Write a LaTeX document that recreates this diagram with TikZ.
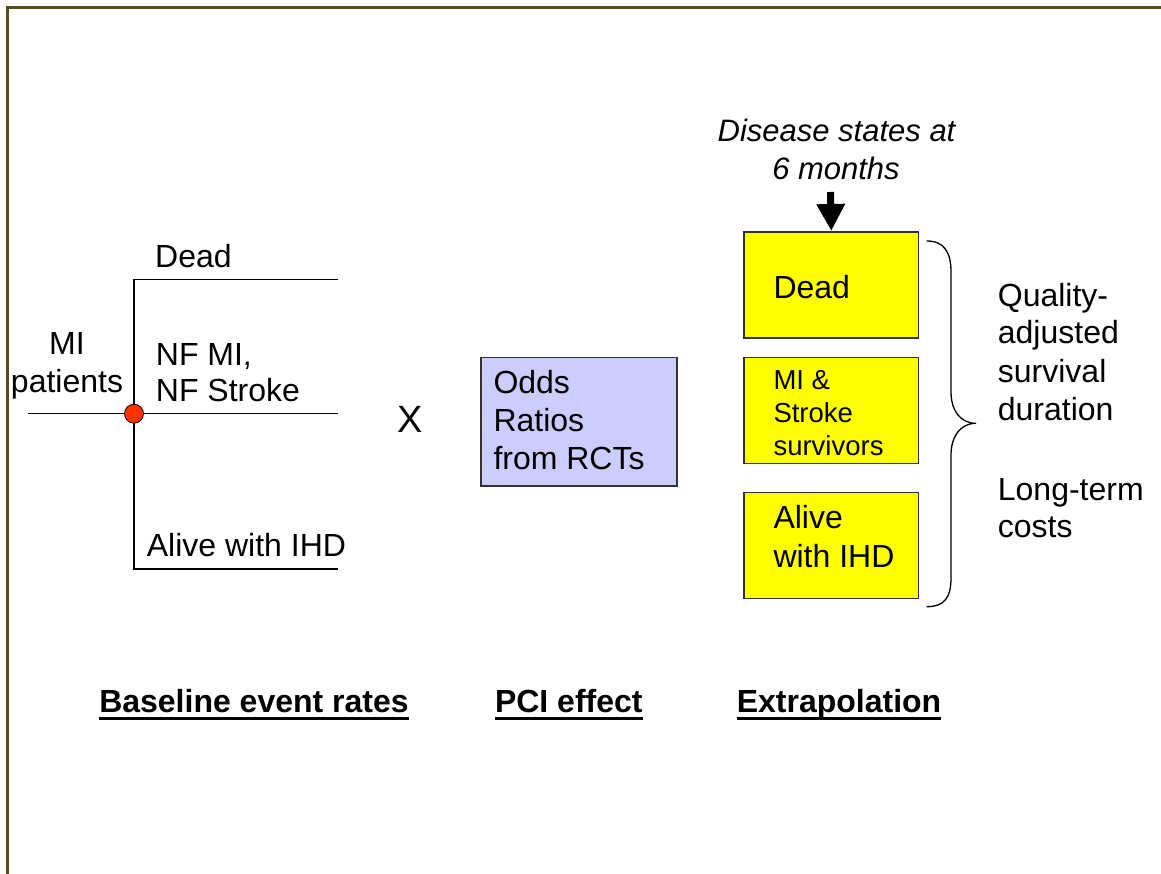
\documentclass[tikz,border=0pt]{standalone}
\usepackage{fontspec}
\setmainfont{Liberation Sans}
\usetikzlibrary{arrows.meta}
\definecolor{framecol}{RGB}{80,80,30}
\definecolor{dotred}{RGB}{255,51,0}
\definecolor{oddsblue}{RGB}{204,204,255}
\definecolor{stateyellow}{RGB}{255,255,0}
\tikzset{
  txt/.style={font=\fontsize{32}{37}\selectfont, inner sep=0pt, anchor=base west},
  txtc/.style={font=\fontsize{32}{37}\selectfont, inner sep=0pt, anchor=base},
  smalltxt/.style={font=\fontsize{27.5}{33}\selectfont, inner sep=0pt, anchor=base west},
  itxt/.style={font=\fontsize{31}{37}\selectfont\itshape, inner sep=0pt, anchor=base},
  btxt/.style={font=\fontsize{32}{37}\selectfont\bfseries, inner sep=0pt, anchor=base},
  branch/.style={line width=1.3pt, black},
  statebox/.style={draw=black!80, line width=1.6pt, fill=stateyellow},
  oddsbox/.style={draw=black!80, line width=1.6pt, fill=oddsblue},
  uline/.style={line width=3.2pt, black},
}
\begin{document}
\begin{tikzpicture}[x=1pt,y=-1pt]
\useasboundingbox (0,0) rectangle (1161,874);
% frame
\draw[line width=2.5pt, framecol] (7.5,880) -- (7.5,7.5) -- (1170,7.5);

% decision tree
\coordinate (root) at (134,413.7);
\coordinate (inleft) at (27.7,413.7);
\coordinate (topj) at (134,279.3);
\coordinate (botj) at (134,569);
\coordinate (topend) at (337.7,279.3);
\coordinate (midend) at (337.7,413.7);
\coordinate (botend) at (337.7,569);
\draw[branch] (inleft) -- (midend);
\draw[branch] (topend) -- (topj) -- (botj) -- (botend);
\node[circle, draw=black, line width=0.8pt, fill=dotred, minimum size=19pt, inner sep=0pt] (dot) at (root) {};

\node[txt] (tdead) at (155,267.3) {Dead};
\node[txtc] (mi1) at (67,354) {MI};
\node[txtc] (mi2) at (67,392.7) {patients};
\node[txt] (nf1) at (155.7,365) {NF MI,};
\node[txt] (nf2) at (155.7,401.7) {NF Stroke};
\node[txt] (alive) at (146.7,556.7) {Alive with IHD};

% multiply sign
\node[font=\fontsize{38}{44}\selectfont, inner sep=0pt, anchor=base] (times) at (410,432) {X};

% odds ratio box
\node[oddsbox, minimum width=196pt, minimum height=128.3pt, inner sep=0pt, anchor=north west] (odds) at (480,356.7) {};
\node[txt] (o1) at (493.3,393.3) {Odds};
\node[txt] (o2) at (493.3,431.7) {Ratios};
\node[txt] (o3) at (493.3,469) {from RCTs};

% disease states
\node[itxt] (ds1) at (836.5,141.7) {Disease states at};
\node[itxt] (ds2) at (836,180) {6 months};

\node[statebox, minimum width=174.4pt, minimum height=106.3pt, inner sep=0pt, anchor=north west] (ydead) at (743.3,231) {};
\node[statebox, minimum width=174.4pt, minimum height=106pt, inner sep=0pt, anchor=north west] (ymi) at (743.3,356.7) {};
\node[statebox, minimum width=174.4pt, minimum height=106pt, inner sep=0pt, anchor=north west] (yalive) at (743.3,491.7) {};

\coordinate (arrtop) at (830.5,192);
\draw[line width=7pt, -{Triangle[width=27pt,length=27pt]}] (arrtop) -- (ydead.north);

\node[txt] (yd) at (773.3,298.3) {Dead};
\node[smalltxt] (ym1) at (773.3,389.3) {MI \&};
\node[smalltxt] (ym2) at (773.3,422.3) {Stroke};
\node[smalltxt] (ym3) at (773.3,455) {survivors};
\node[txt] (ya1) at (773.3,528.3) {Alive};
\node[txt] (ya2) at (773.3,567.7) {with IHD};

% brace
\coordinate (brtop) at (926.7,241);
\coordinate (brtip) at (976,423.3);
\coordinate (brbot) at (926.7,606.7);
\draw[line width=1.3pt] (brtop) .. controls (944,241) and (951,252) .. (951,272)
  -- (951,392) .. controls (951,410) and (960,423.3) .. (brtip)
  .. controls (960,423.3) and (951,437) .. (951,455)
  -- (951,578) .. controls (951,598) and (944,606.7) .. (brbot);

\node[txt] (q1) at (997.7,306.7) {Quality-};
\node[txt] (q2) at (997.7,344) {adjusted};
\node[txt] (q3) at (997.7,382.7) {survival};
\node[txt] (q4) at (997.7,420.7) {duration};
\node[txt] (lt1) at (997.7,500) {Long-term};
\node[txt] (lt2) at (997.7,537.3) {costs};

% section labels
\node[btxt] (lab1) at (254,712.7) {Baseline event rates};
\node[btxt] (lab2) at (568.8,712.7) {PCI effect};
\node[btxt] (lab3) at (839,712.7) {Extrapolation};
\foreach \n in {lab1,lab2,lab3}{
  \draw[uline] ([yshift=-5.5pt]\n.base west) -- ([yshift=-5.5pt]\n.base east);
}
\end{tikzpicture}
\end{document}
